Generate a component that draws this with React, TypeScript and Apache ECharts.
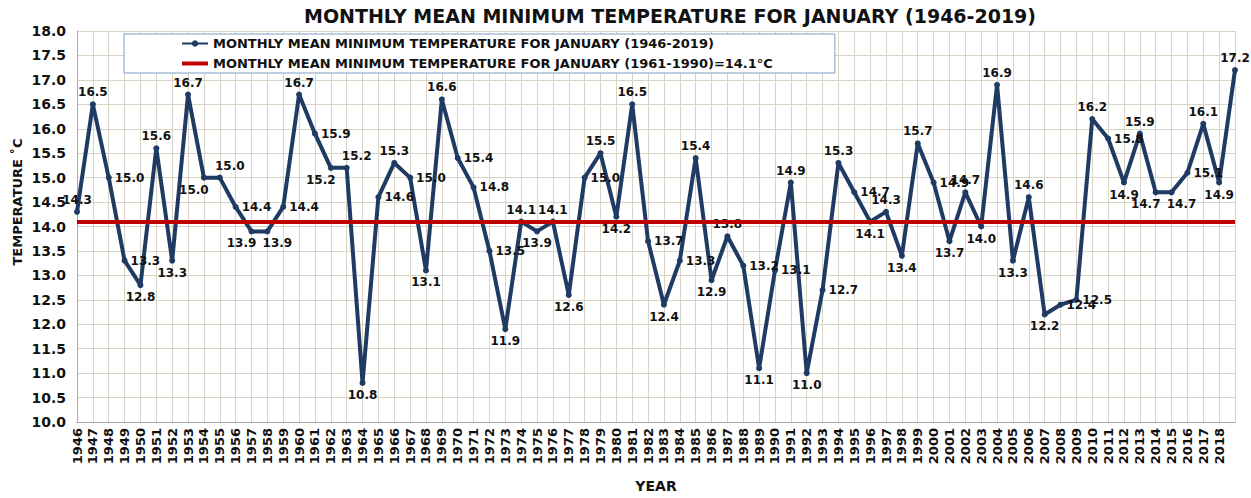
import React, { useEffect, useRef } from "react";
import * as echarts from "echarts";

const TITLE = "MONTHLY MEAN MINIMUM TEMPERATURE FOR JANUARY (1946-2019)";
const SERIES_NAME = "MONTHLY MEAN MINIMUM TEMPERATURE FOR JANUARY (1946-2019)";
const BASELINE_NAME = "MONTHLY MEAN MINIMUM TEMPERATURE FOR JANUARY (1961-1990)=14.1°C";
const Y_NAME = "TEMPERATURE ˚C";
const X_NAME = "YEAR";
const BASELINE = 14.1;

const years = [
  "1946", "1947", "1948", "1949", "1950", "1951", "1952", "1953", "1954", "1955",
  "1956", "1957", "1958", "1959", "1960", "1961", "1962", "1963", "1964", "1965",
  "1966", "1967", "1968", "1969", "1970", "1971", "1972", "1973", "1974", "1975",
  "1976", "1977", "1978", "1979", "1980", "1981", "1982", "1983", "1984", "1985",
  "1986", "1987", "1988", "1989", "1990", "1991", "1992", "1993", "1994", "1995",
  "1996", "1997", "1998", "1999", "2000", "2001", "2002", "2003", "2004", "2005",
  "2006", "2007", "2008", "2009", "2010", "2011", "2012", "2013", "2014", "2015",
  "2016", "2017", "2018", "2019",
];

const temps = [
  14.3, 16.5, 15.0, 13.3, 12.8, 15.6, 13.3, 16.7, 15.0, 15.0,
  14.4, 13.9, 13.9, 14.4, 16.7, 15.9, 15.2, 15.2, 10.8, 14.6,
  15.3, 15.0, 13.1, 16.6, 15.4, 14.8, 13.5, 11.9, 14.1, 13.9,
  14.1, 12.6, 15.0, 15.5, 14.2, 16.5, 13.7, 12.4, 13.3, 15.4,
  12.9, 13.8, 13.2, 11.1, 13.1, 14.9, 11.0, 12.7, 15.3, 14.7,
  14.1, 14.3, 13.4, 15.7, 14.9, 13.7, 14.7, 14.0, 16.9, 13.3,
  14.6, 12.2, 12.4, 12.5, 16.2, 15.8, 14.9, 15.9, 14.7, 14.7,
  15.1, 16.1, 14.9, 17.2,
];

const FONT = "'DejaVu Sans', 'Liberation Sans', Arial, sans-serif";
const LINE_COLOR = "#1f3b63";
const RED = "#c00000";
const GRID_COLOR = "#d8d4c6";

function labelPos(i: number): string {
  const v = temps[i];
  const p = temps[i - 1];
  const n = temps[i + 1];
  if (p === undefined || n === undefined) return "top";
  if (v >= p && v >= n) return "top";
  if (v <= p && v <= n) return "bottom";
  return "right";
}

function labelOffset(i: number): number[] {
  const v = temps[i];
  if (temps[i + 1] === v) return [-10, 0];
  if (temps[i - 1] === v) return [10, 0];
  return [0, 0];
}

export default function App() {
  const ref = useRef<HTMLDivElement>(null);

  useEffect(() => {
    document.body.style.margin = "0";
    const chart = echarts.init(ref.current!, null, { renderer: "svg" });
    chart.setOption({
      animation: false,
      backgroundColor: "#ffffff",
      textStyle: { fontFamily: FONT },
      graphic: [
        {
          type: "text",
          x: 670,
          y: 6,
          style: {
            text: TITLE,
            textAlign: "center",
            font: `bold 19px ${FONT}`,
            fill: "#111",
          },
        },
        {
          type: "text",
          x: 11,
          y: 202,
          rotation: Math.PI / 2,
          style: {
            text: Y_NAME,
            textAlign: "center",
            textVerticalAlign: "top",
            font: `bold 13px ${FONT}`,
            fill: "#111",
          },
        },
      ],
      legend: {
        orient: "vertical",
        left: 124,
        top: 34,
        padding: [2, 62, 2, 57],
        itemGap: 5,
        itemWidth: 26,
        itemHeight: 8,
        borderColor: "#7f9fc6",
        borderWidth: 1,
        backgroundColor: "#ffffff",
        textStyle: {
          fontFamily: FONT,
          fontWeight: "bold",
          fontSize: 13,
          color: "#111",
          lineHeight: 15,
        },
        data: [
          { name: SERIES_NAME },
          { name: BASELINE_NAME, icon: "path://M0,0 L26,0 L26,4 L0,4 Z" },
        ],
      },
      grid: { left: 77, right: 16, top: 31, bottom: 71, containLabel: false },
      xAxis: {
        type: "category",
        boundaryGap: false,
        data: years,
        name: X_NAME,
        nameLocation: "middle",
        nameGap: 57,
        nameTextStyle: { fontFamily: FONT, fontWeight: "bold", fontSize: 14, color: "#111" },
        axisLine: { lineStyle: { color: "#a8a8a8" } },
        axisTick: { show: false },
        axisLabel: {
          interval: 0,
          rotate: 90,
          fontFamily: FONT,
          fontWeight: "bold",
          fontSize: 13,
          color: "#111",
          margin: 6,
          formatter: (v: string) => (v === "2019" ? "" : v),
        },
        splitLine: { show: true, lineStyle: { color: GRID_COLOR, width: 1 } },
      },
      yAxis: {
        type: "value",
        min: 10,
        max: 18,
        interval: 0.5,
        axisLine: { show: true, lineStyle: { color: "#a8a8a8" } },
        axisTick: { show: false },
        axisLabel: {
          fontFamily: FONT,
          fontWeight: "bold",
          fontSize: 14,
          color: "#111",
          margin: 11,
          formatter: (v: number) => v.toFixed(1),
        },
        splitLine: { show: true, lineStyle: { color: GRID_COLOR, width: 1 } },
      },
      series: [
        {
          name: BASELINE_NAME,
          type: "line",
          data: [],
          symbol: "none",
          lineStyle: { color: RED, width: 4 },
          itemStyle: { color: RED },
          markLine: {
            silent: true,
            symbol: "none",
            label: { show: false },
            lineStyle: { color: RED, width: 4, type: "solid" },
            data: [{ yAxis: BASELINE }],
          },
          z: 2,
        },
        {
          name: SERIES_NAME,
          type: "line",
          data: temps.map((v, i) => ({
            value: v,
            label: { position: labelPos(i), offset: labelOffset(i) },
          })),
          symbol: "circle",
          symbolSize: 6,
          lineStyle: { color: LINE_COLOR, width: 4 },
          itemStyle: { color: LINE_COLOR },
          label: {
            show: true,
            distance: 3,
            fontFamily: FONT,
            fontWeight: "bold",
            fontSize: 12,
            color: "#111",
            formatter: (p: any) => Number(p.value).toFixed(1),
          },
          z: 3,
        },
      ],
    });
    return () => chart.dispose();
  }, []);

  return <div ref={ref} style={{ width: 1251, height: 498 }} />;
}
